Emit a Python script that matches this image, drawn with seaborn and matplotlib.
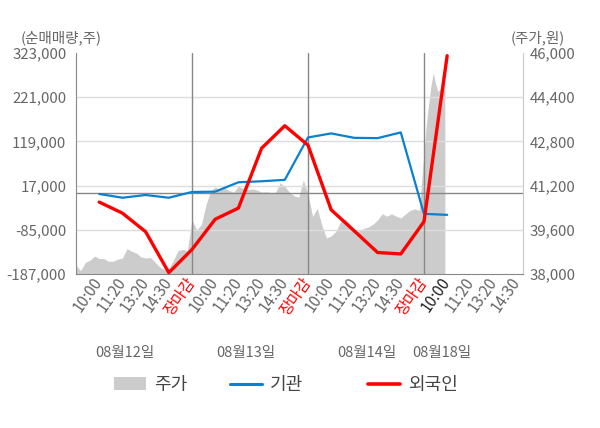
import numpy as np
import matplotlib
matplotlib.use("Agg")
import matplotlib.pyplot as plt
import matplotlib.transforms as mtrans
import seaborn as sns
from matplotlib.patches import Patch
from matplotlib.lines import Line2D

# x tick labels for each trading day
slot_labels = ["10:00", "11:20", "13:20", "14:30", "장마감"]
dates = ["08월12일", "08월13일", "08월14일", "08월18일"]

# net buying (shares) at each slot, 08/12 10:00 ... 08/18 10:00
inst = [-2300, -11000, -4700, -11000, 2300,
        3000, 24700, 27000, 30300, 128100,
        137400, 127200, 126500, 139700, -48200,
        -50500]
foreign = [-21000, -46600, -89400, -184000, -130400,
           -60600, -34900, 103200, 155100, 110200,
           -38900, -87800, -137400, -140700, -66100,
           316700]

# stock price (won), sampled through each day
price_0812 = [38320, 38120, 38420, 38500, 38650, 38560, 38560, 38460, 38460, 38540,
              38580, 38920, 38820, 38760, 38620, 38580, 38600, 38440, 38260, 38160,
              38200, 38500, 38850, 38890, 38850]
price_0813 = [39960, 39600, 39780, 40500, 41000, 41150, 41050, 41110, 41020, 40960,
              41180, 41100, 41050, 41080, 41040, 40960, 40980, 40950, 40960, 41300,
              41170, 40960, 40830, 40780, 41400]
price_0814 = [40900, 40080, 40380, 39760, 39300, 39380, 39540, 39880, 40000, 39780,
              39540, 39560, 39650, 39700, 39800, 39960, 40180, 40090, 40180, 40090,
              40030, 40170, 40300, 40360, 40300]
price_0818 = [42400, 43400, 44150, 44800, 45280, 44900, 44600, 44700, 45250, 45430]

left_ticks = [-187000, -85000, 17000, 119000, 221000, 323000]
right_ticks = [38000, 39600, 41200, 42800, 44400, 46000]

# layout
day_len = len(slot_labels)
n_slots = len(inst)
px = 1 / 600
grey_txt = "#666666"

sns.set_style("white")
plt.rcParams['font.family'] = ['Noto Sans CJK KR', 'DejaVu Sans']

fig = plt.figure(figsize=(6, 4.28), dpi=100)
ax = fig.add_axes([0.1267, 0.3598, 0.745, 0.5164])
ax2 = ax.twinx()
ax.set_zorder(2)
ax2.set_zorder(1)
ax.patch.set_visible(False)
ax2.set_facecolor("#f4f4f4")

# price area
price_days = [price_0812, price_0813, price_0814, price_0818]
pr_x, pr_y = [], []
for d, vals in enumerate(price_days):
    step = day_len / 25 if len(vals) == 25 else day_len / 50
    pr_x.extend(d * day_len + np.arange(len(vals)) * step)
    pr_y.extend(vals)
ax2.fill_between(pr_x, right_ticks[0], pr_y, color="#cccccc", lw=0)
ax2.set_ylim(right_ticks[0], right_ticks[-1])
ax2.set_yticks(right_ticks)
ax2.set_yticklabels([f"{v:,}" for v in right_ticks], color=grey_txt, fontsize=10.8)
ax2.tick_params(axis="y", length=0, pad=5)

# lines
slots = np.arange(1, n_slots + 1)
sns.lineplot(x=slots, y=inst, ax=ax, color="#0a80d0", lw=1.6)
sns.lineplot(x=slots, y=foreign, ax=ax, color="#ff0000", lw=2.4)

ax.set_ylim(left_ticks[0], left_ticks[-1])
ax.set_yticks(left_ticks)
ax.set_yticklabels([f"{v:,}" for v in left_ticks], color=grey_txt, fontsize=10.8)
ax.tick_params(axis="y", length=0, pad=7)
for v in left_ticks[1:-1]:
    ax.axhline(v, color="#dddddd", lw=1, zorder=0)
ax.axhline(0, color="#888888", lw=1, zorder=1)

ax.set_xlim(0, 19.27)
for b in range(day_len, n_slots, day_len):
    ax.axvline(b, color="#888888", lw=1, zorder=1)
ax.xaxis.remove_overlapping_locs = False
ax.set_xticks([0, 5, 10, 15])
ax.set_xticklabels([])
ax.tick_params(axis="x", which="major", length=5, color="#888888", width=1)

all_labels = [slot_labels[i % day_len] for i in range(19)]
ax.set_xticks(np.arange(1, 20), minor=True)
ax.set_xticklabels(all_labels, minor=True, rotation=55, ha="right",
                   va="center", rotation_mode="anchor", fontsize=11)
ax.tick_params(axis="x", which="minor", length=0, pad=4)
for i, t in enumerate(ax.get_xticklabels(minor=True)):
    if all_labels[i] == "장마감":
        t.set_color("#ff0000")
    elif i == n_slots - 1:
        t.set_color("#222222")
    else:
        t.set_color(grey_txt)

ax.spines["top"].set_visible(False)
ax2.spines["top"].set_visible(False)
ax.spines["left"].set_color("#888888")
ax.spines["bottom"].set_color("#888888")
ax.spines["right"].set_color("#cccccc")
ax2.spines["right"].set_color("#cccccc")
ax2.spines["left"].set_visible(False)
ax2.spines["bottom"].set_visible(False)

# date labels
date_tr = mtrans.blended_transform_factory(ax.transData, fig.transFigure)
for d, xpos in zip(dates, [2.11, 7.33, 12.54, 15.78]):
    ax.text(xpos, 1 - 353 / 428, d, transform=date_tr,
            ha="center", va="center", fontsize=10.5, color=grey_txt)

fig.text(61 * px, 1 - 38 / 428, "(순매매량,주)", ha="center", va="center", fontsize=10.5, color=grey_txt)
fig.text(538 * px, 1 - 38 / 428, "(주가,원)", ha="center", va="center", fontsize=10.5, color=grey_txt)

# legend: one entry per box so each sits where the reference has it
handles = [Patch(facecolor="#cccccc", edgecolor="none"),
           Line2D([], [], color="#0a80d0", lw=2.2),
           Line2D([], [], color="#ff0000", lw=2.6)]
names = ["주가", "기관", "외국인"]
for h, name, left in zip(handles, names, [114, 230, 368]):
    fig.legend([h], [name], loc="center left", bbox_to_anchor=(left * px, 1 - 385 / 428),
               frameon=False, fontsize=13, handlelength=1.75, handleheight=0.7,
               handletextpad=0.45, borderpad=0, borderaxespad=0, labelcolor="#444444")

fig.savefig("out.png", dpi=100)
